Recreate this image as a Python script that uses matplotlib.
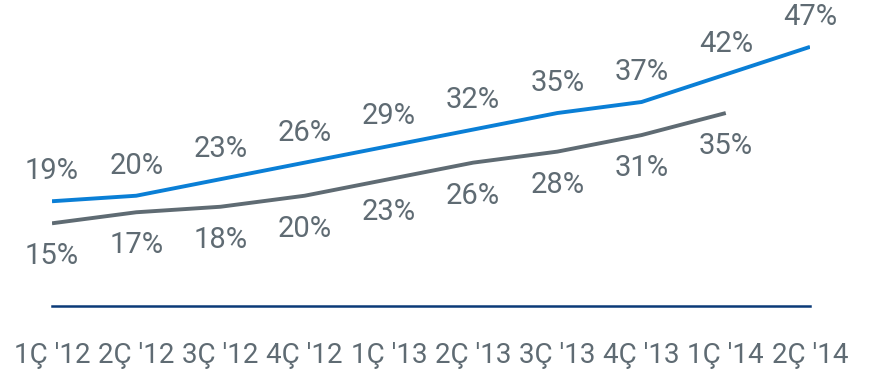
import matplotlib.pyplot as plt
from matplotlib import font_manager

quarters = ["1Ç '12", "2Ç '12", "3Ç '12", "4Ç '12", "1Ç '13",
            "2Ç '13", "3Ç '13", "4Ç '13", "1Ç '14", "2Ç '14"]
blue_vals = [19, 20, 23, 26, 29, 32, 35, 37, 42, 47]
grey_vals = [15, 17, 18, 20, 23, 26, 28, 31, 35]

names = {f.name for f in font_manager.fontManager.ttflist}
fam = [n for n in ["Liberation Sans Narrow", "DejaVu Sans Condensed", "Roboto"] if n in names]
fam = fam + ["DejaVu Sans"]
plt.rcParams['font.family'] = fam

text_col = '#5f6b73'
blue = '#0a7fd6'
grey = '#5f6b73'
navy = '#0b3a78'

fig = plt.figure(figsize=(8.69, 3.75), dpi=100)
ax = fig.add_axes([52/869, 1 - 306/375, (810 - 52)/869, 306/375])

xb = list(range(len(blue_vals)))
xg = list(range(len(grey_vals)))
ax.plot(xb, blue_vals, color=blue, lw=2.8, solid_capstyle='butt', solid_joinstyle='round')
ax.plot(xg, grey_vals, color=grey, lw=2.8, solid_capstyle='butt', solid_joinstyle='round')

# labels above blue, below grey
for x, v in zip(xb, blue_vals):
    ax.annotate(f"{v}%", (x, v), xytext=(0, 30), textcoords='offset pixels',
                ha='center', va='center', fontsize=21, color=text_col)
for x, v in zip(xg, grey_vals):
    ax.annotate(f"{v}%", (x, v), xytext=(0, -33), textcoords='offset pixels',
                ha='center', va='center', fontsize=21, color=text_col)

ax.set_xlim(0, 9)
ax.set_ylim(0, 55.5)
ax.set_xticks(xb)
ax.set_xticklabels(quarters, fontsize=20, color=text_col)
ax.tick_params(axis='x', length=0, pad=26)
ax.set_yticks([])
for s in ['top', 'right', 'left']:
    ax.spines[s].set_visible(False)
ax.spines['bottom'].set_color(navy)
ax.spines['bottom'].set_linewidth(1.8)
ax.patch.set_alpha(0)

fig.savefig('out.png', dpi=100)
